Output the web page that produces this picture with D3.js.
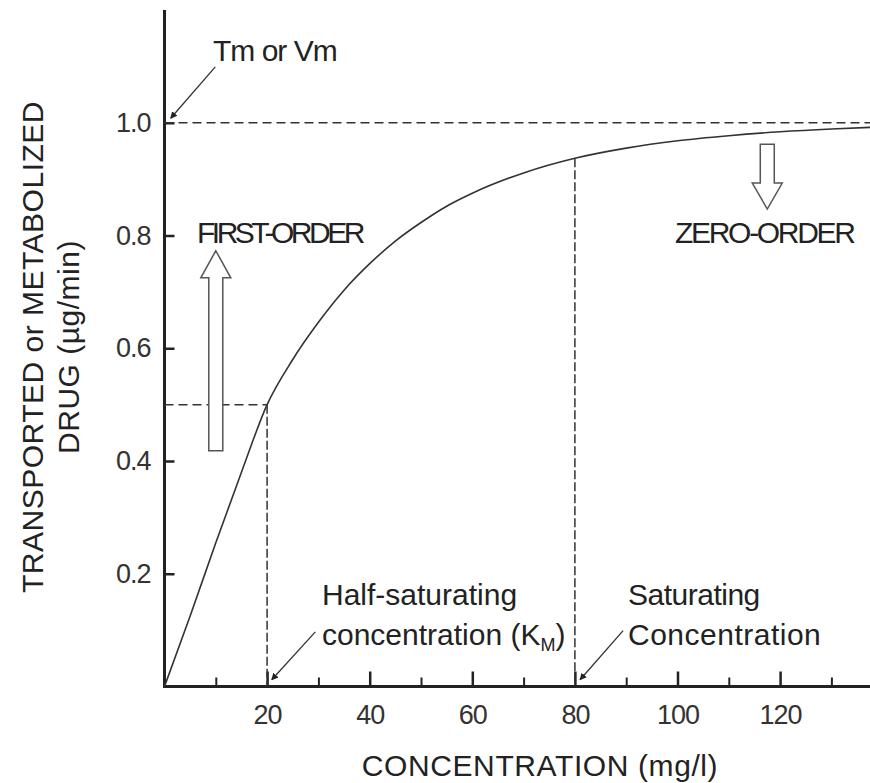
<!DOCTYPE html>
<html>
<head>
<meta charset="utf-8">
<script src="https://cdn.jsdelivr.net/npm/d3@7"></script>
<style>
  body { margin: 0; background: #fff; }
  svg { display: block; font-family: "Liberation Sans", Arial, sans-serif; }
  .tick text { font-family: "Liberation Sans", Arial, sans-serif; }
</style>
</head>
<body>
<div id="chart"></div>
<script>
// Curve
var concentration = [0, 5, 10, 15, 20, 25, 30, 35, 40, 45, 50, 55, 60, 70, 80, 90, 100, 110, 120, 130, 138];
var transported = [0, 0.125, 0.255, 0.38, 0.5, 0.58, 0.646, 0.703, 0.75, 0.79, 0.823, 0.852, 0.875, 0.911, 0.937, 0.955, 0.968, 0.977, 0.984, 0.989, 0.992];

// Axis ticks
var xMajorTicks = [20, 40, 60, 80, 100, 120];
var xMinorTicks = [10, 30, 50, 70, 90, 110, 130];
var yTicks = [0.2, 0.4, 0.6, 0.8, 1.0];

// Reference values
var vMax = 1.0;
var km = 20;
var halfValue = 0.5;
var saturating = 80;
var saturatingValue = 0.937;

var width = 870, height = 783;

var svg = d3.select("#chart").append("svg")
  .attr("width", width)
  .attr("height", height);

var x = d3.scaleLinear()
  .domain([0, 138])
  .range([164.5, 164.5 + 5.13 * 138]);

var y = d3.scaleLinear()
  .domain([0, 1.2])
  .range([686.5, 10]);

var ink = "#222";

// arrow head marker
svg.append("defs").append("marker")
  .attr("id", "head")
  .attr("viewBox", "0 0 10 10")
  .attr("refX", 9)
  .attr("refY", 5)
  .attr("markerWidth", 7)
  .attr("markerHeight", 7)
  .attr("markerUnits", "userSpaceOnUse")
  .attr("orient", "auto")
  .append("path")
  .attr("d", "M0,0 L10,5 L0,10 z")
  .attr("fill", ink);

// x axis ticks (inward)
var xMajor = svg.append("g")
  .attr("transform", "translate(0," + y(0) + ")")
  .call(d3.axisBottom(x).tickValues(xMajorTicks).tickSize(-15).tickPadding(18).tickFormat(d3.format("d")));
xMajor.select(".domain").remove();
xMajor.selectAll(".tick line").attr("stroke", ink).attr("stroke-width", 2.5);
xMajor.selectAll(".tick text").attr("font-size", 27).attr("fill", "#333").attr("letter-spacing", "-1px");

var xMinor = svg.append("g")
  .attr("transform", "translate(0," + y(0) + ")")
  .call(d3.axisBottom(x).tickValues(xMinorTicks).tickSize(-9).tickFormat(""));
xMinor.select(".domain").remove();
xMinor.selectAll(".tick line").attr("stroke", ink).attr("stroke-width", 2);

// y axis ticks (inward)
var yAx = svg.append("g")
  .attr("transform", "translate(" + x(0) + ",0)")
  .call(d3.axisLeft(y).tickValues(yTicks).tickSize(-10).tickPadding(14).tickFormat(d3.format(".1f")));
yAx.select(".domain").remove();
yAx.selectAll(".tick line").attr("stroke", ink).attr("stroke-width", 2.5);
yAx.selectAll(".tick text").attr("font-size", 27).attr("fill", "#333").attr("letter-spacing", "-1px");

// axis lines
svg.append("line")
  .attr("x1", x(0)).attr("x2", x(0))
  .attr("y1", y(1.2)).attr("y2", y(0) + 1.5)
  .attr("stroke", ink).attr("stroke-width", 3);
svg.append("line")
  .attr("x1", x(0) - 1.5).attr("x2", width)
  .attr("y1", y(0)).attr("y2", y(0))
  .attr("stroke", ink).attr("stroke-width", 3);

// dashed guide lines
svg.append("line")
  .attr("x1", x(0)).attr("x2", width)
  .attr("y1", y(vMax)).attr("y2", y(vMax))
  .attr("stroke", "#333").attr("stroke-width", 1.5)
  .attr("stroke-dasharray", "9,5");

svg.append("line")
  .attr("x1", x(0)).attr("x2", x(km))
  .attr("y1", y(halfValue)).attr("y2", y(halfValue))
  .attr("stroke", "#333").attr("stroke-width", 1.5)
  .attr("stroke-dasharray", "9,5");

svg.append("line")
  .attr("x1", x(km)).attr("x2", x(km))
  .attr("y1", y(halfValue)).attr("y2", y(0))
  .attr("stroke", "#333").attr("stroke-width", 1.5)
  .attr("stroke-dasharray", "9,3");

svg.append("line")
  .attr("x1", x(saturating)).attr("x2", x(saturating))
  .attr("y1", y(saturatingValue)).attr("y2", y(0))
  .attr("stroke", "#333").attr("stroke-width", 1.5)
  .attr("stroke-dasharray", "9,3");

// the curve
var line = d3.line()
  .x(function(d) { return x(d[0]); })
  .y(function(d) { return y(d[1]); })
  .curve(d3.curveMonotoneX);

svg.append("path")
  .datum(d3.zip(concentration, transported))
  .attr("d", line)
  .attr("fill", "none")
  .attr("stroke", "#333")
  .attr("stroke-width", 1.6);

// hollow block arrows
function blockArrow(cx, yStart, yHeadBase, yTip) {
  var s = 7, h = 15;
  return "M" + (cx - s) + "," + yStart +
    "L" + (cx - s) + "," + yHeadBase +
    "L" + (cx - h) + "," + yHeadBase +
    "L" + cx + "," + yTip +
    "L" + (cx + h) + "," + yHeadBase +
    "L" + (cx + s) + "," + yHeadBase +
    "L" + (cx + s) + "," + yStart + "Z";
}

svg.append("path")
  .attr("d", blockArrow(x(10), y(0.418), y(0.725), y(0.773)))
  .attr("fill", "#fff")
  .attr("stroke", "#555")
  .attr("stroke-width", 1.5);

svg.append("path")
  .attr("d", blockArrow(x(117.5), y(0.962), y(0.893), y(0.847)))
  .attr("fill", "#fff")
  .attr("stroke", "#555")
  .attr("stroke-width", 1.5);

// pointer arrows
var pointers = [
  {from: [9.9, 1.099], to: [1.2, 1.008]},
  {from: [29.4, 0.097], to: [20.9, 0.012]},
  {from: [89.4, 0.099], to: [81.0, 0.012]}
];
svg.selectAll(".pointer")
  .data(pointers)
  .enter()
  .append("line")
  .attr("class", "pointer")
  .attr("x1", function(d) { return x(d.from[0]); })
  .attr("y1", function(d) { return y(d.from[1]); })
  .attr("x2", function(d) { return x(d.to[0]); })
  .attr("y2", function(d) { return y(d.to[1]); })
  .attr("stroke", "#333")
  .attr("stroke-width", 1.3)
  .attr("marker-end", "url(#head)");

// labels
function label(tx, ty, str, spacing) {
  return svg.append("text")
    .attr("x", tx)
    .attr("y", ty)
    .attr("font-size", 30)
    .attr("fill", ink)
    .attr("letter-spacing", spacing + "px")
    .text(str);
}

label(213, 61, "Tm or Vm", -1);
label(197, 243, "FIRST-ORDER", -3.5);
label(675, 243, "ZERO-ORDER", -2.3);
label(322, 605, "Half-saturating", 0);
var km_label = label(322, 645, "concentration (K", 0);
km_label.append("tspan").attr("font-size", 18).attr("dy", 6).text("M");
km_label.append("tspan").attr("dy", -6).text(")");
label(628, 605, "Saturating", -0.5);
label(628, 645, "Concentration", 0.5);

// axis titles
svg.append("text")
  .attr("x", 540)
  .attr("y", 776)
  .attr("text-anchor", "middle")
  .attr("font-size", 30)
  .attr("letter-spacing", "0.6px")
  .attr("fill", ink)
  .text("CONCENTRATION (mg/l)");

var yTitle = svg.append("text")
  .attr("transform", "translate(43,347) rotate(-90)")
  .attr("text-anchor", "middle")
  .attr("font-size", 30)
  .attr("letter-spacing", "0.5px")
  .attr("fill", ink);
yTitle.append("tspan").attr("x", 0).attr("y", 0).text("TRANSPORTED or METABOLIZED");
yTitle.append("tspan").attr("x", 0).attr("y", 36).text("DRUG (µg/min)");
</script>
</body>
</html>
